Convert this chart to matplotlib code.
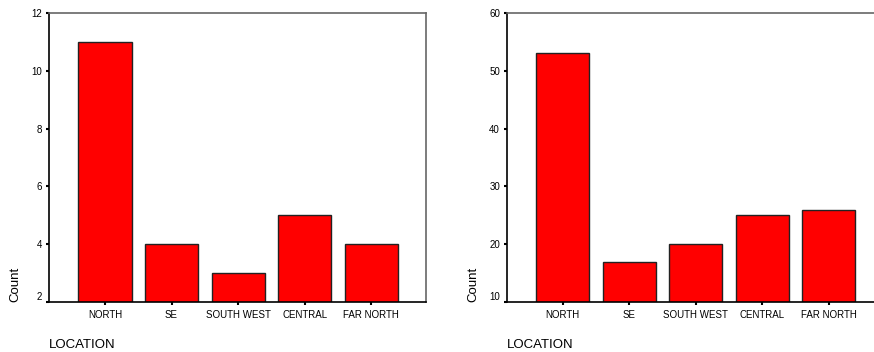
import matplotlib
matplotlib.use("Agg")
import matplotlib.pyplot as plt

plt.rcParams['font.family'] = ['Liberation Sans', 'DejaVu Sans']

locations = ["NORTH", "SE", "SOUTH WEST", "CENTRAL", "FAR NORTH"]
counts_left = [11, 4, 3, 5, 4]
counts_right = [53, 17, 20, 25, 26]
yticks_left = [2, 4, 6, 8, 10, 12]
yticks_right = [10, 20, 30, 40, 50, 60]

W, H = 874, 352
fig = plt.figure(figsize=(W / 100, H / 100), dpi=100)


def panel(x0, x1, counts, yticks):
    ax = fig.add_axes([x0 / W, 1 - 302 / H, (x1 - x0) / W, (302 - 13) / H])
    pos = list(range(len(locations)))
    ax.bar(pos, counts, width=0.8, bottom=0, color="#ff0000",
           edgecolor="#222222", linewidth=1.0, zorder=2)
    ax.set_xlim(-0.84, len(locations) - 1 + 0.82)
    ax.set_ylim(yticks[0], yticks[-1])
    ax.set_yticks(yticks)
    ax.set_xticks(pos)
    ax.set_xticklabels(locations)
    ax.tick_params(axis="both", direction="out", length=2, width=1.5,
                   color="black", labelsize=7)
    ax.tick_params(axis="x", pad=4)
    ax.tick_params(axis="y", pad=3)
    for s in ("left", "bottom"):
        ax.spines[s].set_color("black")
        ax.spines[s].set_linewidth(1.2)
    for s in ("top", "right"):
        ax.spines[s].set_color("#666666")
        ax.spines[s].set_linewidth(1.2)
    # bottom tick label sits above its tick, as in the source
    ax.get_yticklabels()[0].set_verticalalignment("bottom")
    ax.set_ylabel("Count", fontsize=9.5, loc="bottom", labelpad=7)
    fig.text(x0 / W, 4 / H, "LOCATION", fontsize=9.5,
             ha="left", va="baseline")
    return ax


panel(49, 426, counts_left, yticks_left)
panel(507, 883, counts_right, yticks_right)

fig.savefig("out.png", dpi=100)
